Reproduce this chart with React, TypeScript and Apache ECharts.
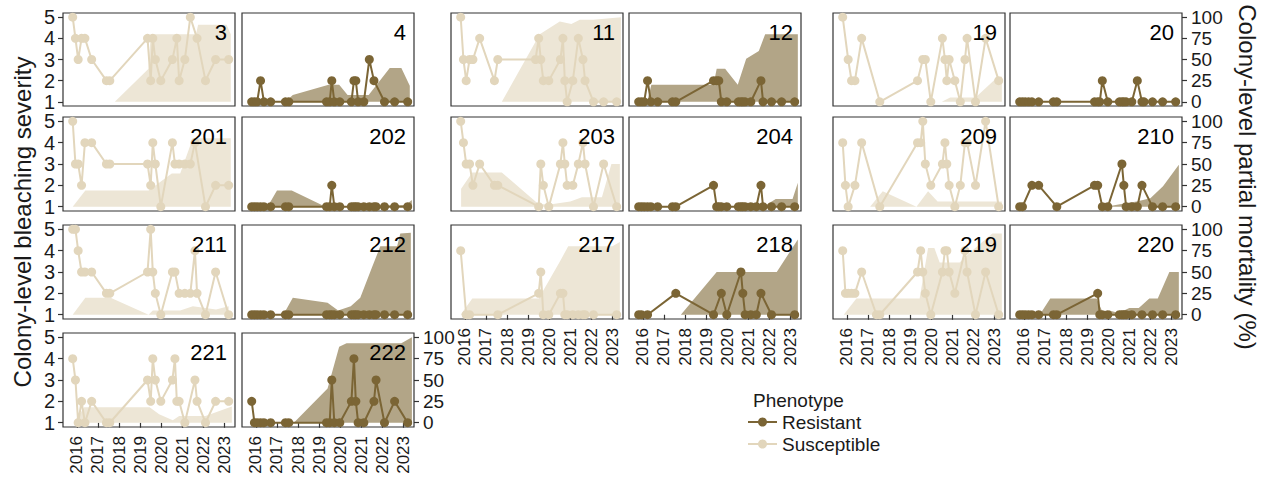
import React, { useEffect, useRef } from "react";
import * as echarts from "echarts";

// ---- sampling dates (decimal years) ----
const T = [2015.8, 2015.93, 2016.06, 2016.22, 2016.38, 2016.7, 2017.4, 2017.56, 2019.35, 2019.5, 2019.6, 2019.72, 2019.98, 2020.53, 2020.65, 2020.74, 2020.85, 2021.12, 2021.38, 2021.6, 2021.7, 2022.1, 2022.58, 2023.2];

const YEARS = [2016, 2017, 2018, 2019, 2020, 2021, 2022, 2023];
const SEV_TICKS = [1, 2, 3, 4, 5];
const MORT_TICKS = [0, 25, 50, 75, 100];

// ---- bleaching severity per colony (null = not surveyed) ----
const sev3 = [5, 4, 3, 4, 4, 3, 2, 2, 4, 2, 4, 3, 2, 3, null, 4, 2, 3, 5, null, 4, 2, 3, 3];
const sev4 = [1, 1, 1, 2, 1, 1, 1, 1, 1, 1, 2, 1, 1, 1, 2, 2, 1, 1, 3, 2, null, 1, 1, 1];
const sev201 = [5, 3, 3, 2, 4, 4, 3, 3, 3, 2, 4, 3, 1, 4, 3, null, 3, 3, 3, 4, null, 1, 2, 2];
const sev202 = [1, 1, 1, 1, 1, 1, 1, 1, 1, 1, 2, 1, 1, 1, 1, 1, 1, 1, 1, 1, 1, 1, 1, 1];
const sev211 = [5, 5, 4, 3, 3, 3, 2, 2, 3, 5, 3, 2, 1, 3, 3, null, 2, 2, 2, 4, 2, 1, 3, 1];
const sev212 = [1, 1, 1, 1, 1, 1, 1, 1, 1, 1, 1, 1, 1, 1, 1, 1, 1, 1, 1, 1, 1, 1, 1, 1];
const sev221 = [4, 3, 1, 2, 1, 2, 1, 1, 3, 2, 4, 3, 2, 3, 4, 2, 2, 1, null, 3, 2, 1, 2, 2];
const sev222 = [2, 1, 1, 1, 1, 1, 1, 1, 1, 1, 3, 1, 1, 2, 4, 2, 1, 1, null, 2, 3, 1, 2, 1];
const sev11 = [5, 3, 2, 3, 3, 4, 2, 3, 3, 4, 3, 2, 2, 3, 4, 2, 1, 2, 4, 3, 2, 1, 1, 1];
const sev12 = [1, 1, 1, 2, 1, 1, 1, 1, 2, 2, 2, 1, 1, 1, 1, 1, 1, 1, null, 2, 1, 1, 1, 1];
const sev203 = [5, 4, 3, 3, 2, 3, 2, 2, null, 1, 3, 2, 1, 3, 4, 3, 2, 2, 3, 4, 3, 1, 3, 1];
const sev204 = [1, 1, 1, 1, 1, 1, 1, 1, 2, 1, 1, 1, 1, 1, 1, 1, 1, 1, 1, 2, 1, 1, 1, 1];
const sev217 = [4, null, 1, 1, null, null, null, 1, null, 2, 3, 1, 1, 2, 2, 1, 1, 1, 1, 1, 1, 1, null, 1];
const sev218 = [1, 1, null, 1, null, null, null, 2, 1, null, null, 2, 1, null, 3, 2, 1, 1, 1, 2, null, 1, null, 1];
const sev19 = [5, null, 3, 2, 2, 4, null, 1, 2, null, 3, 3, 1, 4, 3, 2, 3, 2, 1, 3, 4, 1, 4, 2];
const sev20 = [1, 1, 1, 1, 1, 1, 1, 1, 1, 1, 1, 2, 1, 1, 1, 1, 1, 1, 2, 1, 1, 1, 1, 1];
const sev209 = [4, 2, 1, null, 2, 4, null, 1, 4, 4, 5, 3, 2, 3, 4, 3, 2, 1, 2, 4, 4, 2, 5, 1];
const sev210 = [1, 1, null, null, 2, 2, null, 1, 2, 2, null, 1, 1, null, 3, 2, 1, 1, 1, 2, null, 1, 1, 1];
const sev219 = [4, 2, 2, 2, 2, 3, 1, 1, 3, 4, 3, 2, 1, 3, 4, 4, 3, 2, null, 4, 3, 1, 3, 1];
const sev220 = [1, 1, 1, 1, 1, 1, 1, 1, null, 2, 1, 1, 1, 1, 1, 1, 1, 1, null, 1, null, 1, 1, 1];

// ---- partial mortality (%) per colony: [year, percent] ----
const mort3 = [[2017.8, 0], [2019.4, 39], [2019.5, 80], [2021.65, 80], [2021.75, 91], [2023.1, 91], [2023.3, 80]];
const mort4 = [[2017.4, 0], [2017.75, 8], [2019.45, 20], [2019.95, 20], [2020.35, 8], [2021.35, 8], [2022.35, 40], [2022.9, 40], [2023.3, 19]];
const mort201 = [[2015.8, 0], [2016.4, 19], [2019.4, 19], [2020.5, 39], [2020.9, 39], [2021.5, 80], [2023.3, 80]];
const mort202 = [[2016.55, 0], [2017.0, 19], [2017.7, 19], [2019.3, 0], [2023.1, 2], [2023.4, 8]];
const mort211 = [[2015.8, 0], [2016.4, 20], [2017.6, 20], [2019.4, 0], [2019.6, 5], [2020.9, 5], [2021.5, 10], [2022.1, 8], [2022.6, 6], [2023.2, 10]];
const mort212 = [[2017.3, 0], [2017.75, 20], [2019.4, 14], [2019.9, 5], [2020.5, 10], [2020.95, 20], [2021.5, 55], [2021.9, 80], [2022.7, 80], [2022.85, 95], [2023.35, 96]];
const mort221 = [[2015.85, 0], [2016.35, 18], [2019.45, 18], [2019.9, 10], [2020.55, 3], [2020.85, 8], [2022.1, 8], [2023.35, 19]];
const mort222 = [[2017.8, 0], [2019.4, 40], [2019.95, 89], [2020.3, 93], [2022.9, 93], [2023.4, 100]];
const mort11 = [[2017.75, 0], [2019.55, 80], [2020.5, 95], [2021.05, 92], [2021.45, 97], [2022.1, 97], [2023.4, 100]];
const mort12 = [[2016.2, 0], [2016.4, 20], [2019.35, 20], [2019.5, 39], [2019.9, 39], [2020.5, 20], [2020.9, 51], [2021.5, 60], [2021.8, 80], [2023.35, 80]];
const mort203 = [[2015.82, 21], [2016.35, 40], [2017.75, 40], [2019.5, 3], [2020.1, 3], [2021.0, 6], [2021.55, 11], [2022.5, 11], [2022.95, 50], [2023.35, 50]];
const mort204 = [[2021.3, 0], [2021.9, 3], [2022.3, 9], [2023.1, 9], [2023.35, 28]];
const mort217 = [[2015.8, 0], [2016.35, 19], [2019.5, 19], [2020.5, 62], [2020.9, 80], [2023.0, 80], [2023.35, 85]];
const mort218 = [[2017.8, 0], [2019.5, 50], [2022.35, 50], [2023.35, 88]];
const mort19 = [[2020.5, 0], [2020.9, 5], [2022.1, 5], [2023.1, 28], [2023.35, 30]];
const mort20: number[][] = [];
const mort209 = [[2017.1, 0], [2017.7, 18], [2019.3, 0], [2019.85, 18], [2020.3, 6], [2023.35, 6]];
const mort210 = [[2019.9, 0], [2020.55, 3], [2021.35, 6], [2022.0, 10], [2022.6, 24], [2023.35, 49]];
const mort219 = [[2015.85, 0], [2016.45, 19], [2019.45, 19], [2019.85, 78], [2020.15, 78], [2020.4, 61], [2021.35, 61], [2021.8, 72], [2022.9, 95], [2023.35, 95]];
const mort220 = [[2016.75, 0], [2017.25, 19], [2019.45, 19], [2019.75, 2], [2020.05, 5], [2020.5, 2], [2021.0, 8], [2021.45, 8], [2021.95, 19], [2022.35, 19], [2022.9, 50], [2023.35, 50]];

// ---- facet list ----
const PANELS = [
  { id: "3", sev: sev3, mort: mort3, ph: "S", g: 0, row: 0 },
  { id: "4", sev: sev4, mort: mort4, ph: "R", g: 0, row: 0 },
  { id: "201", sev: sev201, mort: mort201, ph: "S", g: 0, row: 1 },
  { id: "202", sev: sev202, mort: mort202, ph: "R", g: 0, row: 1 },
  { id: "211", sev: sev211, mort: mort211, ph: "S", g: 0, row: 2 },
  { id: "212", sev: sev212, mort: mort212, ph: "R", g: 0, row: 2 },
  { id: "221", sev: sev221, mort: mort221, ph: "S", g: 0, row: 3 },
  { id: "222", sev: sev222, mort: mort222, ph: "R", g: 0, row: 3 },
  { id: "11", sev: sev11, mort: mort11, ph: "S", g: 1, row: 0 },
  { id: "12", sev: sev12, mort: mort12, ph: "R", g: 1, row: 0 },
  { id: "203", sev: sev203, mort: mort203, ph: "S", g: 1, row: 1 },
  { id: "204", sev: sev204, mort: mort204, ph: "R", g: 1, row: 1 },
  { id: "217", sev: sev217, mort: mort217, ph: "S", g: 1, row: 2 },
  { id: "218", sev: sev218, mort: mort218, ph: "R", g: 1, row: 2 },
  { id: "19", sev: sev19, mort: mort19, ph: "S", g: 2, row: 0 },
  { id: "20", sev: sev20, mort: mort20, ph: "R", g: 2, row: 0 },
  { id: "209", sev: sev209, mort: mort209, ph: "S", g: 2, row: 1 },
  { id: "210", sev: sev210, mort: mort210, ph: "R", g: 2, row: 1 },
  { id: "219", sev: sev219, mort: mort219, ph: "S", g: 2, row: 2 },
  { id: "220", sev: sev220, mort: mort220, ph: "R", g: 2, row: 2 },
];

// ---- layout & style ----
const COL_LEFT = [
  { S: 63, R: 242 },
  { S: 451, R: 629 },
  { S: 833, R: 1010 },
];
const PANEL_W = 172;
const ROW_TOP = [13, 117, 225, 333];
const ROW_H = [93, 94, 94, 94];
const BOTTOM_ROW = [3, 2, 2];

const FONT = "'Liberation Sans', Arial, Helvetica, sans-serif";
const TEXT = "#1a1a1a";
const TICK = "#333333";
const COLORS = {
  R: { line: "#7b6535", area: "#b2a587" },
  S: { line: "#e2d6bc", area: "#ede6d6" },
};

function buildOption() {
  const grid: any[] = [];
  const xAxis: any[] = [];
  const yAxis: any[] = [];
  const series: any[] = [];
  const graphic: any[] = [];

  PANELS.forEach((p, i) => {
    const left = (COL_LEFT[p.g] as any)[p.ph];
    const top = ROW_TOP[p.row];
    const height = ROW_H[p.row];
    const isBottom = BOTTOM_ROW[p.g] === p.row;
    const showLeft = p.g === 0 && p.ph === "S";
    const showRight = (p.g === 2 && p.ph === "R") || p.id === "222";
    const col = (COLORS as any)[p.ph];

    grid.push({
      left,
      top,
      width: PANEL_W,
      height,
      show: true,
      borderColor: "#333333",
      borderWidth: 1.2,
      backgroundColor: "#ffffff",
      containLabel: false,
      outerBoundsMode: "none",
    });

    xAxis.push({
      type: "value",
      gridIndex: i,
      min: 2015.34,
      max: 2023.5,
      axisLine: { show: false },
      splitLine: { show: false },
      axisTick: {
        show: isBottom,
        length: 5,
        lineStyle: { color: TICK, width: 1.2 },
        customValues: YEARS,
      },
      axisLabel: {
        show: isBottom,
        rotate: 90,
        fontSize: 17,
        fontFamily: FONT,
        color: TEXT,
        margin: 9,
        customValues: YEARS,
        formatter: (v: number) => String(Math.round(v)),
      },
    });

    yAxis.push({
      type: "value",
      gridIndex: i,
      position: "left",
      min: 0.8,
      max: 5.2,
      axisLine: { show: false },
      splitLine: { show: false },
      axisTick: {
        show: showLeft,
        length: 5,
        lineStyle: { color: TICK, width: 1.2 },
        customValues: SEV_TICKS,
      },
      axisLabel: {
        show: showLeft,
        fontSize: 20,
        fontFamily: FONT,
        color: TEXT,
        margin: 8,
        customValues: SEV_TICKS,
      },
    });
    yAxis.push({
      type: "value",
      gridIndex: i,
      position: "right",
      min: -5,
      max: 105,
      axisLine: { show: false },
      splitLine: { show: false },
      axisTick: {
        show: showRight,
        length: 5,
        lineStyle: { color: TICK, width: 1.2 },
        customValues: MORT_TICKS,
      },
      axisLabel: {
        show: showRight,
        fontSize: 19,
        fontFamily: FONT,
        color: TEXT,
        margin: 9,
        customValues: MORT_TICKS,
      },
    });

    series.push({
      type: "line",
      name: p.id + "-mortality",
      xAxisIndex: i,
      yAxisIndex: 2 * i + 1,
      data: p.mort,
      symbol: "none",
      showSymbol: false,
      lineStyle: { width: 0, color: col.area },
      areaStyle: { color: col.area, opacity: 1 },
      silent: true,
      z: 1,
    });

    const pts = T.map((t, k) => (p.sev[k] == null ? null : [t, p.sev[k]])).filter(
      (d) => d !== null
    );
    series.push({
      type: "line",
      name: p.id + "-severity",
      xAxisIndex: i,
      yAxisIndex: 2 * i,
      data: pts,
      symbol: "circle",
      symbolSize: 9,
      showSymbol: true,
      itemStyle: { color: col.line },
      lineStyle: { color: col.line, width: 2 },
      silent: true,
      z: 3,
    });

    graphic.push({
      type: "text",
      x: left + PANEL_W - 8,
      y: top + 19,
      z: 10,
      style: {
        text: p.id,
        fontSize: 22,
        fontFamily: FONT,
        fill: "#000000",
        align: "right",
        verticalAlign: "middle",
      },
    });
  });

  // axis titles
  graphic.push({
    type: "text",
    x: 22,
    y: 222,
    rotation: Math.PI / 2,
    style: {
      text: "Colony-level bleaching severity",
      fontSize: 24,
      fontFamily: FONT,
      fill: TEXT,
      align: "center",
      verticalAlign: "middle",
    },
  });
  graphic.push({
    type: "text",
    x: 1247,
    y: 177,
    rotation: -Math.PI / 2,
    style: {
      text: "Colony-level partial mortality (%)",
      fontSize: 24,
      fontFamily: FONT,
      fill: TEXT,
      align: "center",
      verticalAlign: "middle",
    },
  });

  // legend
  graphic.push({
    type: "text",
    x: 753,
    y: 400,
    style: { text: "Phenotype", fontSize: 19, fontFamily: FONT, fill: TEXT, verticalAlign: "middle" },
  });
  const legendItems = [
    { label: "Resistant", ph: "R", y: 422 },
    { label: "Susceptible", ph: "S", y: 444 },
  ];
  legendItems.forEach((it) => {
    const c = (COLORS as any)[it.ph].line;
    graphic.push({
      type: "line",
      shape: { x1: 748, y1: it.y, x2: 777, y2: it.y },
      style: { stroke: c, lineWidth: 2 },
    });
    graphic.push({
      type: "circle",
      shape: { cx: 762.5, cy: it.y, r: 4.5 },
      style: { fill: c },
    });
    graphic.push({
      type: "text",
      x: 782,
      y: it.y,
      style: { text: it.label, fontSize: 19, fontFamily: FONT, fill: TEXT, verticalAlign: "middle" },
    });
  });

  return {
    animation: false,
    backgroundColor: "#ffffff",
    textStyle: { fontFamily: FONT },
    grid,
    xAxis,
    yAxis,
    series,
    graphic,
  };
}

export default function App() {
  const ref = useRef<HTMLDivElement>(null);
  useEffect(() => {
    document.body.style.margin = "0";
    const chart = echarts.init(ref.current as HTMLDivElement, null, { renderer: "svg" });
    chart.setOption(buildOption() as any);
    return () => {
      chart.dispose();
    };
  }, []);
  return <div ref={ref} style={{ width: 1265, height: 481 }} />;
}
